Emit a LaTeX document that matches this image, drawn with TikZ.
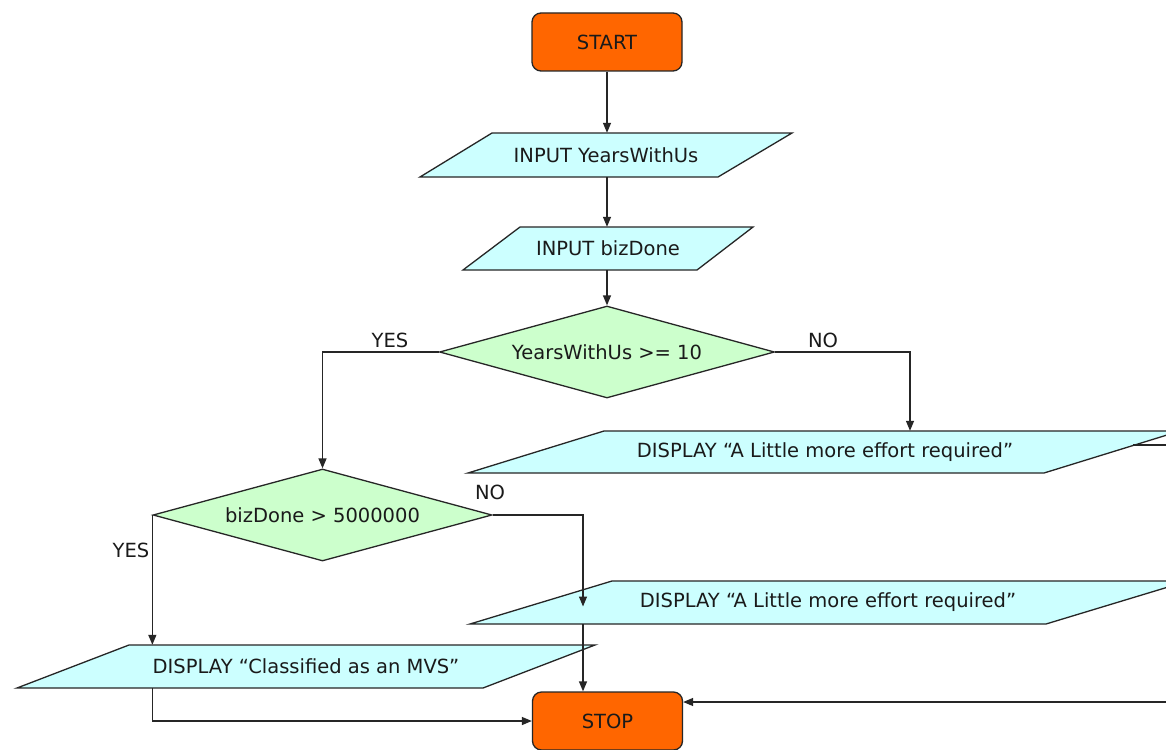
\documentclass[tikz,border=0pt]{standalone}
\usepackage{fontspec}
\setmainfont{DejaVu Sans}
\usetikzlibrary{shapes.geometric,arrows.meta,calc}
\definecolor{iofill}{HTML}{CCFFFF}
\definecolor{decfill}{HTML}{CCFFCC}
\definecolor{termfill}{HTML}{FF6600}
\definecolor{txt}{HTML}{1A1A1A}
\begin{document}
\begin{tikzpicture}[x=1pt,y=-1pt,
  every node/.style={font=\fontsize{19.5}{23}\selectfont, text=txt},
  term/.style={rectangle, rounded corners=9pt, draw=black!85, line width=1.3pt, fill=termfill, minimum width=150pt, minimum height=58pt, inner sep=0pt},
  iotext/.style={rectangle, draw=none, inner sep=0pt},
  ioshape/.style={draw=black!85, line width=1.3pt, fill=iofill, line join=miter},
  dec/.style={diamond, draw=black!85, line width=1.3pt, fill=decfill, inner sep=0pt, aspect=3.64},
  conn/.style={draw=black!85, line width=1.3pt},
  arr/.style={conn, -{Triangle[length=10pt,width=8pt]}},
  lab/.style={inner sep=0pt}
]
\useasboundingbox (0,0) rectangle (1166,749);
\clip (0,0) rectangle (1166,749);
\fill[white] (0,0) rectangle (1166,749);

% parallelogram outlines
\path[ioshape] (492,133) -- (792,133) -- (718,177) -- (420,177) -- cycle;
\path[ioshape] (520,227) -- (753,227) -- (697,270) -- (463,270) -- cycle;
\path[ioshape] (604,431) -- (1180,431) -- (1044,473) -- (468,473) -- cycle;
\path[ioshape] (612,581) -- (1188,581) -- (1046,624) -- (470,624) -- cycle;
\path[ioshape] (129,645) -- (595,645) -- (483,688) -- (17,688) -- cycle;

% nodes
\node[term] (start) at (607,42) {START};
\node[iotext, minimum width=300pt, minimum height=44pt] (in1) at (606,155) {INPUT YearsWithUs};
\node[iotext, minimum width=233pt, minimum height=43pt] (in2) at (608,248.5) {INPUT bizDone};
\node[dec, minimum width=335pt, minimum height=92pt] (dia1) at (607,352) {YearsWithUs >= 10};
\node[iotext, minimum width=576pt, minimum height=42pt] (d1) at (825,452) {DISPLAY “A Little more effort required”};
\node[dec, minimum width=339pt, minimum height=92pt] (dia2) at (322.5,515) {bizDone > 5000000};
\node[iotext, minimum width=576pt, minimum height=43pt] (d2) at (828,602.5) {DISPLAY “A Little more effort required”};
\node[iotext, minimum width=466pt, minimum height=43pt] (mvs) at (306,666.5) {DISPLAY “Classified as an MVS”};
\node[term] (stop) at (607.5,721) {STOP};

% labels
\node[lab] (yes1) at (390,340) {YES};
\node[lab] (no1) at (823,340) {NO};
\node[lab] (no2) at (490,492) {NO};
\node[lab] (yes2) at (131,550) {YES};

\coordinate (d1out) at (1133,445);

% connectors
\draw[arr] (start.south) -- (start.south |- in1.north);
\draw[arr] (start.south |- in1.south) -- (start.south |- in2.north);
\draw[arr] (start.south |- in2.south) -- (dia1.north);
\draw[arr] (dia1.west) -| (dia2.north);
\draw[arr] (dia1.east) -| ([xshift=85pt]d1.north);
\draw[arr] (d1out) -- ++(100,0) |- ([yshift=19pt]stop.east);
\draw[arr] (dia2.east) -| ([xshift=-245pt,yshift=-4pt]d2.center);
\draw[arr] ([xshift=-245pt]d2.south) -- ([xshift=-24.5pt]stop.north);
\draw[arr] (dia2.west) -- (dia2.west |- mvs.north);
\draw[arr] (dia2.west |- mvs.south) |- (stop.west);
\end{tikzpicture}
\end{document}
